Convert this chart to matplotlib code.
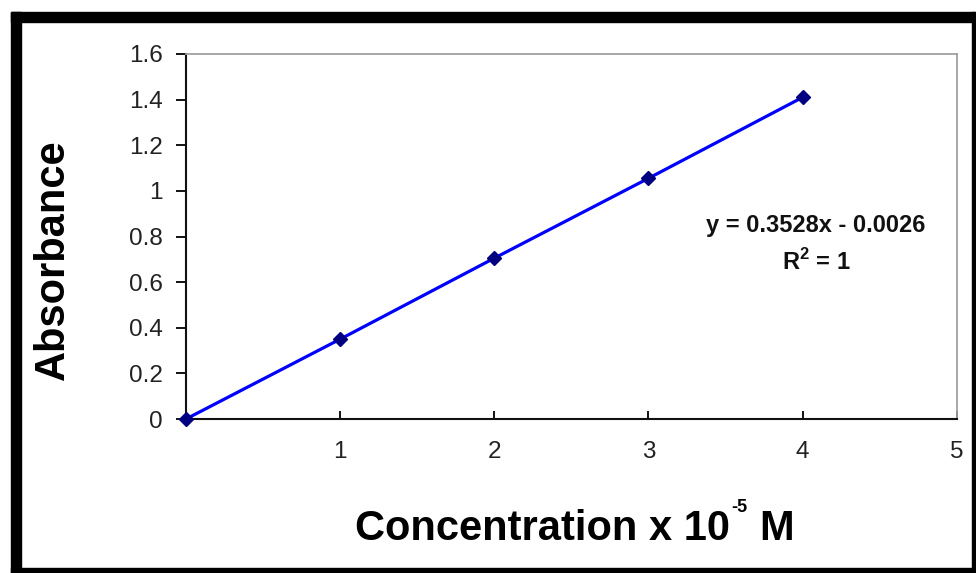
import numpy as np
import matplotlib.pyplot as plt
from matplotlib.patches import Rectangle

plt.rcParams['font.family'] = ['Liberation Sans', 'DejaVu Sans']
plt.rcParams['mathtext.fontset'] = 'custom'
plt.rcParams['mathtext.rm'] = 'Liberation Sans'
plt.rcParams['mathtext.bf'] = 'Liberation Sans:bold'

# calibration data
conc = [0, 1, 2, 3, 4]
absorb = [0, 0.35, 0.705, 1.055, 1.41]
xticks = [1, 2, 3, 4, 5]
yticks = [0, 0.2, 0.4, 0.6, 0.8, 1.0, 1.2, 1.4, 1.6]
ytick_labels = ["0", "0.2", "0.4", "0.6", "0.8", "1", "1.2", "1.4", "1.6"]
eq_text = "y = 0.3528x - 0.0026"
r2_text = r"R$^{\mathbf{2}}$ = 1"

W, H = 976, 573
fig = plt.figure(figsize=(W / 100, H / 100), dpi=100)
ax = fig.add_axes([186 / W, 1 - 419 / H, (956.7 - 186) / W, (419 - 54) / H])

ax.plot(conc, absorb, color='#0000ff', lw=2.3, zorder=2, clip_on=False)
ax.plot(conc, absorb, linestyle='', marker='D', markersize=7.5,
        color='#000080', zorder=3, clip_on=False)

ax.set_xlim(0, 5)
ax.set_ylim(0, 1.6)
ax.set_xticks(xticks)
ax.set_xticklabels([str(t) for t in xticks])
ax.set_yticks(yticks)
ax.set_yticklabels(ytick_labels)

ax.tick_params(axis='y', direction='out', length=7, width=1.3, pad=10,
               labelsize=17.5, labelcolor='#222222')
ax.tick_params(axis='x', direction='in', length=6, width=1.3, pad=16,
               labelsize=17.5, labelcolor='#222222')

for s in ['left', 'bottom']:
    ax.spines[s].set_color('#111111')
    ax.spines[s].set_linewidth(1.5)
for s in ['top', 'right']:
    ax.spines[s].set_color('#a0a0a0')
    ax.spines[s].set_linewidth(1.3)

ax.text(0.8175, 0.529, eq_text, transform=ax.transAxes, ha='center',
        va='center', fontsize=17, fontweight='bold', color='#111111')
ax.text(0.8175, 0.43, r2_text, transform=ax.transAxes, ha='center',
        va='center', fontsize=17, fontweight='bold', color='#111111')

fig.text(53 / W, 1 - 260 / H, "Absorbance", rotation=90, ha='center',
         va='center', fontsize=30, fontweight='bold')
# x label built from pieces so the exponent sits small and high as in Excel
fig.text(730 / W, 1 - 540 / H, "Concentration x 10", ha='right',
         va='baseline', fontsize=30, fontweight='bold')
fig.text(731 / W, 1 - 512 / H, "-5", ha='left', va='baseline',
         fontsize=13, fontweight='bold')
fig.text(759 / W, 1 - 540 / H, "M", ha='left', va='baseline',
         fontsize=30, fontweight='bold')

# outer chart frame
def frame(x0, y0, x1, y1):
    fig.patches.append(Rectangle((x0 / W, 1 - y1 / H), (x1 - x0) / W,
                                 (y1 - y0) / H, transform=fig.transFigure,
                                 color='black', zorder=10))

frame(11, 12, 21, 573)
frame(11, 12, 975, 22)
frame(972, 12, 975, 568)
frame(11, 568, 975, 573)

fig.savefig("out.png", dpi=100)
